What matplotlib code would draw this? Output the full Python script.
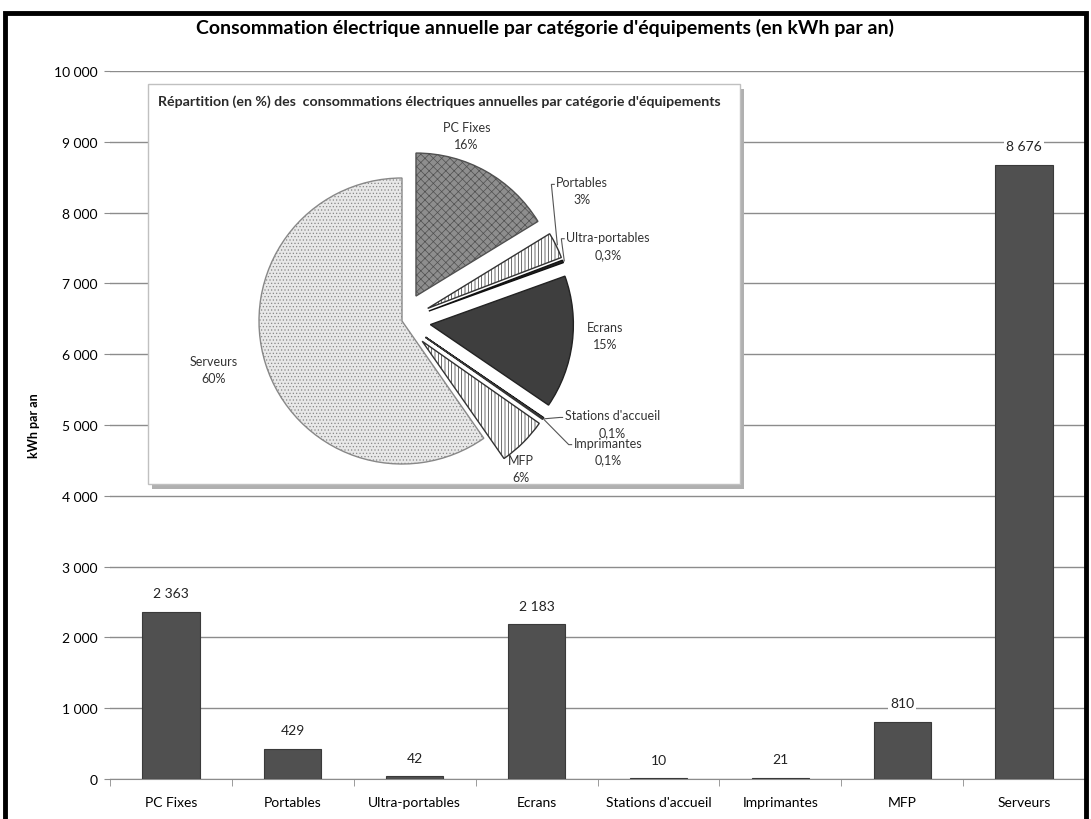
import numpy as np
import matplotlib
matplotlib.use("Agg")
import matplotlib.pyplot as plt
from matplotlib.patches import Rectangle
from matplotlib.ticker import FuncFormatter, MultipleLocator

plt.rcParams['font.family'] = ['Lato', 'DejaVu Sans']
plt.rcParams['hatch.linewidth'] = 0.5

categories = ["PC Fixes", "Portables", "Ultra-portables", "Ecrans",
              "Stations d'accueil", "Imprimantes", "MFP", "Serveurs"]
kwh = [2363, 429, 42, 2183, 10, 21, 810, 8676]
pct_labels = ["16%", "3%", "0,3%", "15%", "0,1%", "0,1%", "6%", "60%"]

def fmt_thousands(v, pos=None):
    return f"{int(round(v)):,}".replace(",", " ")

W, H = 1091, 820
fig = plt.figure(figsize=(W / 100, H / 100), dpi=100)

def px_axes(x0, y0, x1, y1, **kw):
    # pixel box (top-left origin) -> figure fraction axes
    return fig.add_axes([x0 / W, 1 - y1 / H, (x1 - x0) / W, (y1 - y0) / H], **kw)

# ---- main bar chart ----
ax = px_axes(110, 72, 1085, 780)
x = np.arange(len(categories))
ax.bar(x, kwh, width=0.47, color='#505050', edgecolor='#3a3a3a', linewidth=0.8, zorder=3)
for xi, v in zip(x, kwh):
    ax.annotate(fmt_thousands(v), (xi, v), xytext=(0, 9), textcoords='offset points',
                ha='center', va='bottom', fontsize=10, color='#222222', zorder=4,
                bbox=dict(facecolor='white', edgecolor='none', pad=1.5))
ax.set_xlim(-0.5, len(categories) - 0.5)
ax.set_ylim(0, 10000)
ax.yaxis.set_major_locator(MultipleLocator(1000))
ax.yaxis.set_major_formatter(FuncFormatter(fmt_thousands))
ax.grid(axis='y', color='#8c8c8c', linewidth=1, zorder=0)
ax.set_xticks(x)
ax.set_xticklabels(categories, fontsize=10)
ax.set_xticks(np.arange(len(categories) + 1) - 0.5, minor=True)
ax.tick_params(axis='x', which='major', length=0, pad=12)
ax.tick_params(axis='x', which='minor', length=5, color='#8c8c8c')
ax.tick_params(axis='y', length=4, color='#8c8c8c', labelsize=10, pad=5)
for s in ['top', 'right', 'left']:
    ax.spines[s].set_visible(False)
ax.spines['bottom'].set_color('#8c8c8c')
ax.set_ylabel("kWh par an", fontsize=9, fontweight='bold', labelpad=10)
fig.text(545 / W, 1 - 28 / H, "Consommation électrique annuelle par catégorie d'équipements (en kWh par an)",
         ha='center', va='center', fontsize=14, fontweight='bold')

# ---- inset box with shadow ----
fig.patches.append(Rectangle((152 / W, 1 - 490 / H), 592 / W, 400 / H, transform=fig.transFigure,
                             facecolor='#b0b0b0', edgecolor='none', zorder=5))
fig.patches.append(Rectangle((148 / W, 1 - 485 / H), 592 / W, 400 / H, transform=fig.transFigure,
                             facecolor='white', edgecolor='#c0c0c0', linewidth=1, zorder=6))
fig.text(158 / W, 1 - 102 / H,
         "Répartition (en %) des  consommations électriques annuelles par catégorie d'équipements",
         ha='left', va='center', fontsize=10.2, fontweight='bold', color='#2a2a2a', zorder=10)

# ---- pie ----
pax = px_axes(202, 122, 602, 522, zorder=8)
pax.set_facecolor('none')
pax.axis('off')
r_px = 143
face = ['#8e8e8e', 'white', '#222222', '#3e3e3e', '#111111', '#d5d5d5', 'white', '#e8e8e8']
edge = ['#505050', '#333333', '#111111', '#222222', '#111111', '#333333', '#333333', '#888888']
hatch = ['xxxx', '|||||', None, None, None, None, '|||||', '.....']
explode = [0.2, 0.2, 0.2, 0.2, 0.2, 0.2, 0.2, 0.0]
wedges, _ = pax.pie(kwh, startangle=90, counterclock=False, explode=explode,
                    wedgeprops=dict(linewidth=1))
for w, fc, ec, h in zip(wedges, face, edge, hatch):
    w.set_facecolor(fc)
    w.set_edgecolor(ec)
    if h:
        w.set_hatch(h)
lim = 200 / r_px
pax.set_xlim(-lim, lim)
pax.set_ylim(-lim, lim)
pax.set_aspect('equal')

# label placement (pie radius units) and whether a leader line is drawn
label_xy = [(0.45, 1.30), (1.26, 0.91), (1.44, 0.53), (1.42, -0.10),
            (1.47, -0.72), (1.44, -0.91), (0.83, -1.03), (-1.32, -0.34)]
leader = [False, True, True, False, True, True, False, False]
fig.canvas.draw()
rend = fig.canvas.get_renderer()
inv = pax.transData.inverted()
for w, name, p, (lx, ly), ld in zip(wedges, categories, pct_labels, label_xy, leader):
    t = pax.text(lx, ly, f"{name}\n{p}", ha='center', va='center', fontsize=9,
                 color='#333333', linespacing=1.5)
    if ld:
        bb = t.get_window_extent(rend)
        ex0, ey0 = inv.transform((bb.x0 - 2, bb.y1 - 8))
        ang = np.deg2rad((w.theta1 + w.theta2) / 2)
        cx, cy = w.center
        wx, wy = cx + np.cos(ang) * 1.01, cy + np.sin(ang) * 1.01
        pax.plot([wx, ex0 - 0.02, ex0], [wy, ey0, ey0], color='#555555', lw=0.8,
                 solid_joinstyle='miter')

# ---- outer black frame ----
fig.patches.append(Rectangle((5 / W, -0.05), 1081 / W, 1 - 14 / H + 0.05, transform=fig.transFigure,
                             facecolor='none', edgecolor='black', linewidth=3.5, zorder=20))

fig.savefig("out.png", dpi=100)
